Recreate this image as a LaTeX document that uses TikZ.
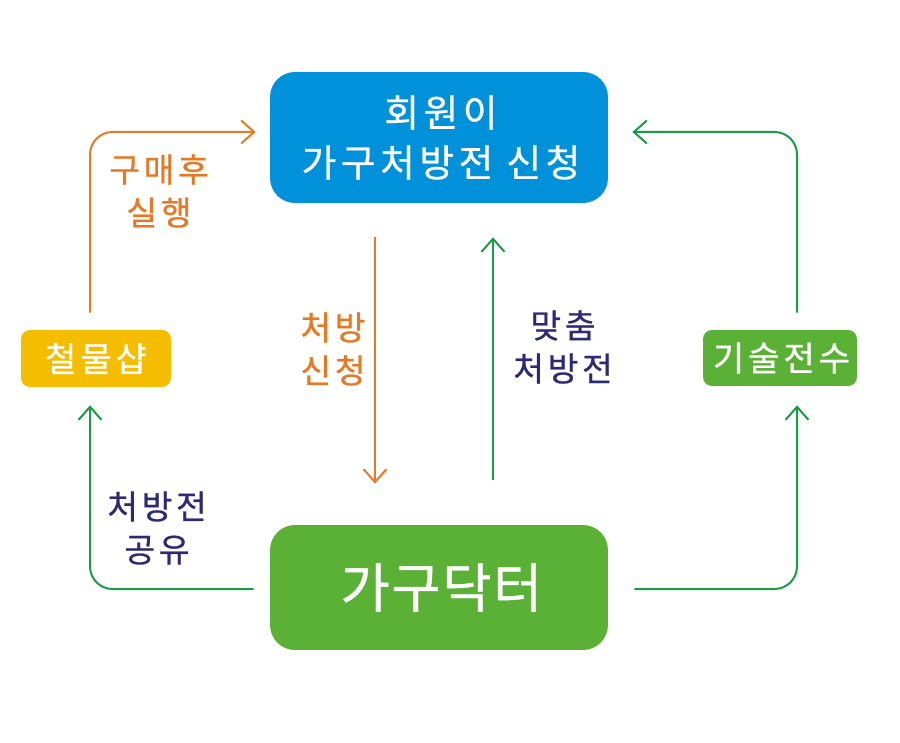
\documentclass[tikz,border=0pt]{standalone}
\usepackage{fontspec}
\setmainfont[FakeBold=0.7]{Noto Sans CJK KR}
\usepackage{xcolor}
\usepackage{tikz}
\usetikzlibrary{shapes,arrows.meta,positioning}

\definecolor{boxblue}{HTML}{0091DA}
\definecolor{boxgreen}{HTML}{5AB135}
\definecolor{boxyellow}{HTML}{F4BD00}
\definecolor{lineorange}{HTML}{E57A25}
\definecolor{linegreen}{HTML}{1B9A48}
\definecolor{labelnavy}{HTML}{2D2A72}

\tikzset{
    bigbox/.style={
        rounded corners=0.5cm,
        text=white,
        align=center,
        inner sep=0pt
    },
    smallbox/.style={
        rounded corners=0.18cm,
        text=white,
        align=center,
        inner sep=0pt,
        font=\fontsize{19.5}{22}\selectfont\addfontfeature{LetterSpace=11}
    },
    flowline/.style={
        line width=0.04cm,
        rounded corners=0.45cm,
        -{Straight Barb[length=0.26cm,width=0.46cm]}
    },
    flowlabel/.style={
        align=center,
        font=\fontsize{19}{24.5}\selectfont\addfontfeature{LetterSpace=11}
    }
}

\begin{document}
\begin{tikzpicture}[x=0.02cm,y=-0.02cm]
                \useasboundingbox (0,0) rectangle (900,743);

                % boxes
                \node[
                    bigbox,
                    fill=boxblue,
                    minimum width=6.76cm,
                    minimum height=2.62cm,
                    font=\fontsize{21.5}{28.5}\selectfont\addfontfeature{LetterSpace=12}
                    ] (request) at (439,137.5) {\hspace*{0.08cm}회원이\\\hspace*{0.08cm}가구처방전 신청};

                \node[
                    bigbox,
                    fill=boxgreen,
                    minimum width=6.76cm,
                    minimum height=2.5cm,
                    font=\fontsize{30.5}{36}\selectfont\addfontfeature{LetterSpace=3}
                    ] (doctor) at (439,587.5) {\hspace*{0.1cm}가구닥터};

                \node[
                    smallbox,
                    fill=boxyellow,
                    minimum width=3cm,
                    minimum height=1.14cm
                    ] (shop) at (96,358.5) {철물샵};

                \node[
                    smallbox,
                    fill=boxgreen,
                    minimum width=3.08cm,
                    minimum height=1.12cm
                    ] (skill) at (780,358) {\hspace*{0.06cm}기술전수};

                % connectors
                \draw[
                    flowline,
                    lineorange,
                    shorten <=0.34cm,
                    shorten >=0.28cm
                    ] ([xshift=-0.12cm]shop.north) |- ([yshift=0.11cm]request.west);

                \draw[
                    flowline,
                    lineorange,
                    shorten <=0.68cm,
                    shorten >=0.82cm
                    ] ([xshift=-1.28cm]request.south) -- ([xshift=-1.28cm]doctor.north);

                \draw[
                    flowline,
                    linegreen,
                    shorten <=0.9cm,
                    shorten >=0.68cm
                    ] ([xshift=1.08cm]doctor.north) -- ([xshift=1.08cm]request.south);

                \draw[
                    flowline,
                    linegreen,
                    shorten <=0.34cm,
                    shorten >=0.48cm
                    ] ([xshift=0.34cm]skill.north) |- ([yshift=0.11cm]request.east);

                \draw[
                    flowline,
                    linegreen,
                    shorten <=0.32cm,
                    shorten >=0.36cm
                    ] ([yshift=-0.03cm]doctor.west) -| ([xshift=-0.12cm]shop.south);

                \draw[
                    flowline,
                    linegreen,
                    shorten <=0.52cm,
                    shorten >=0.38cm
                    ] ([yshift=-0.03cm]doctor.east) -| ([xshift=0.34cm]skill.south);

                % labels
                \node[flowlabel, text=lineorange] (buylabel) at (159,191) {구매후\\실행};
                \node[flowlabel, text=lineorange] (asklabel) at (333,349) {처방\\신청};
                \node[flowlabel, text=labelnavy] (fitlabel) at (563,347) {맞춤\\처방전};
                \node[flowlabel, text=labelnavy] (sharelabel) at (157,528) {처방전\\공유};

\end{tikzpicture}
\end{document}
